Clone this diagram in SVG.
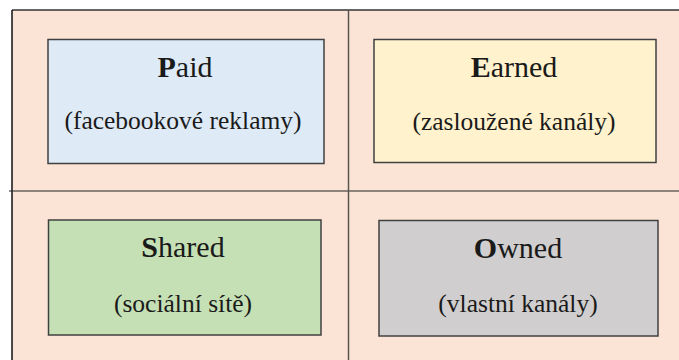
<svg xmlns="http://www.w3.org/2000/svg" width="679" height="360" viewBox="0 0 679 360">
<style>
.box{stroke:#404040;stroke-width:1.5}
.t{fill:#1a1a1a;text-anchor:middle}
.title{font-size:30px}
.sub{font-size:25.5px}
.b{font-weight:bold}
</style>
<rect x="0" y="0" width="679" height="360" fill="#ffffff"/>
<g id="frame">
<rect x="12" y="10" width="667" height="350" fill="#FBE4D6"/>
<line x1="12" y1="10" x2="679" y2="10" stroke="#333" stroke-width="1.5"/>
<line x1="12" y1="10" x2="12" y2="360" stroke="#111" stroke-width="1.5"/>
<line x1="9" y1="191" x2="679" y2="191" stroke="#222" stroke-width="1.2"/>
<line x1="348.5" y1="10" x2="348.5" y2="360" stroke="#5a5450" stroke-width="1.5"/>
</g>
<g font-family="Liberation Serif, Times New Roman, serif">
<g id="paid">
<rect class="box" x="48" y="39.5" width="276" height="124" fill="#DEEAF6"/>
<text class="t title" x="185" y="77"><tspan class="b">P</tspan>aid</text>
<text class="t sub" x="183" y="129">(facebookové reklamy)</text>
</g>
<g id="earned">
<rect class="box" x="374" y="39.5" width="282" height="123" fill="#FFF2CC"/>
<text class="t title" x="514" y="77"><tspan class="b">E</tspan>arned</text>
<text class="t sub" x="514" y="130">(zasloužené kanály)</text>
</g>
<g id="shared">
<rect class="box" x="48.5" y="220" width="272.5" height="115" fill="#C5E0B4"/>
<text class="t title" x="183" y="257"><tspan class="b">S</tspan>hared</text>
<text class="t sub" x="183" y="312">(sociální sítě)</text>
</g>
<g id="owned">
<rect class="box" x="379" y="220.5" width="279" height="115.5" fill="#D0CECE"/>
<text class="t title" x="518" y="258"><tspan class="b">O</tspan>wned</text>
<text class="t sub" x="518" y="312">(vlastní kanály)</text>
</g>
</g>
</svg>
